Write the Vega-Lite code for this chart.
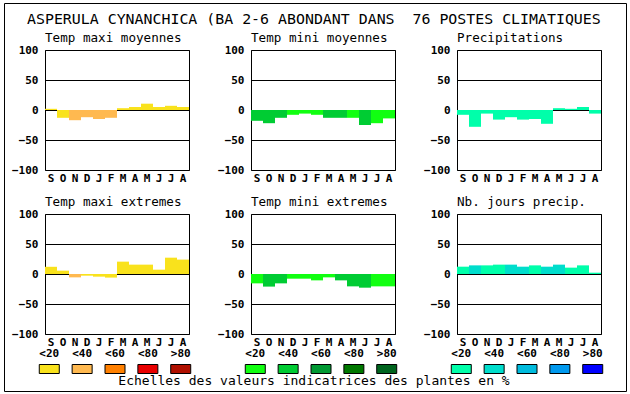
{
  "$schema": "https://vega.github.io/schema/vega-lite/v6.json",
  "autosize": {"type": "none"},
  "padding": {"left": 45, "top": 50, "right": 585, "bottom": 344},
  "background": "#ffffff",
  "title": {"text": "ASPERULA CYNANCHICA (BA 2-6 ABONDANT DANS \u00a076 POSTES CLIMATIQUES", "font": "DejaVu Sans Mono", "fontSize": 14.9, "fontWeight": "normal", "anchor": "start", "frame": "group", "offset": -36, "dx": -18, "baseline": "alphabetic", "color": "#000"},
  "datasets": {
    "bars": [
      {"p": "tmaxmoy", "m": "S", "v": 2, "c": "<20"},
      {"p": "tmaxmoy", "m": "O", "v": -13, "c": "<20"},
      {"p": "tmaxmoy", "m": "N", "v": -17, "c": "<40"},
      {"p": "tmaxmoy", "m": "D", "v": -12, "c": "<40"},
      {"p": "tmaxmoy", "m": "J1", "v": -15, "c": "<40"},
      {"p": "tmaxmoy", "m": "F", "v": -13, "c": "<40"},
      {"p": "tmaxmoy", "m": "M1", "v": 3, "c": "<20"},
      {"p": "tmaxmoy", "m": "A1", "v": 5, "c": "<20"},
      {"p": "tmaxmoy", "m": "M2", "v": 10.5, "c": "<20"},
      {"p": "tmaxmoy", "m": "J2", "v": 5, "c": "<20"},
      {"p": "tmaxmoy", "m": "J3", "v": 7, "c": "<20"},
      {"p": "tmaxmoy", "m": "A2", "v": 5, "c": "<20"},
      {"p": "tminmoy", "m": "S", "v": -18, "c": "<40"},
      {"p": "tminmoy", "m": "O", "v": -22, "c": "<40"},
      {"p": "tminmoy", "m": "N", "v": -13, "c": "<40"},
      {"p": "tminmoy", "m": "D", "v": -8, "c": "<20"},
      {"p": "tminmoy", "m": "J1", "v": -6, "c": "<20"},
      {"p": "tminmoy", "m": "F", "v": -8, "c": "<20"},
      {"p": "tminmoy", "m": "M1", "v": -13, "c": "<40"},
      {"p": "tminmoy", "m": "A1", "v": -13, "c": "<40"},
      {"p": "tminmoy", "m": "M2", "v": -13, "c": "<20"},
      {"p": "tminmoy", "m": "J2", "v": -25, "c": "<40"},
      {"p": "tminmoy", "m": "J3", "v": -22, "c": "<20"},
      {"p": "tminmoy", "m": "A2", "v": -14, "c": "<20"},
      {"p": "precip", "m": "S", "v": -8, "c": "<20"},
      {"p": "precip", "m": "O", "v": -28, "c": "<20"},
      {"p": "precip", "m": "N", "v": -6, "c": "<20"},
      {"p": "precip", "m": "D", "v": -16, "c": "<20"},
      {"p": "precip", "m": "J1", "v": -12, "c": "<20"},
      {"p": "precip", "m": "F", "v": -16, "c": "<20"},
      {"p": "precip", "m": "M1", "v": -15, "c": "<20"},
      {"p": "precip", "m": "A1", "v": -23, "c": "<20"},
      {"p": "precip", "m": "M2", "v": 3, "c": "<20"},
      {"p": "precip", "m": "J2", "v": 2, "c": "<20"},
      {"p": "precip", "m": "J3", "v": 5, "c": "<20"},
      {"p": "precip", "m": "A2", "v": -6, "c": "<20"},
      {"p": "tmaxext", "m": "S", "v": 12, "c": "<20"},
      {"p": "tmaxext", "m": "O", "v": 5.6, "c": "<20"},
      {"p": "tmaxext", "m": "N", "v": -5.6, "c": "<40"},
      {"p": "tmaxext", "m": "D", "v": -2.8, "c": "<20"},
      {"p": "tmaxext", "m": "J1", "v": -4.4, "c": "<20"},
      {"p": "tmaxext", "m": "F", "v": -6, "c": "<20"},
      {"p": "tmaxext", "m": "M1", "v": 20.6, "c": "<20"},
      {"p": "tmaxext", "m": "A1", "v": 15.6, "c": "<20"},
      {"p": "tmaxext", "m": "M2", "v": 15.6, "c": "<20"},
      {"p": "tmaxext", "m": "J2", "v": 7.2, "c": "<20"},
      {"p": "tmaxext", "m": "J3", "v": 27.2, "c": "<20"},
      {"p": "tmaxext", "m": "A2", "v": 24, "c": "<20"},
      {"p": "tminext", "m": "S", "v": -15.6, "c": "<20"},
      {"p": "tminext", "m": "O", "v": -21, "c": "<40"},
      {"p": "tminext", "m": "N", "v": -15.6, "c": "<40"},
      {"p": "tminext", "m": "D", "v": -7.8, "c": "<20"},
      {"p": "tminext", "m": "J1", "v": -7.8, "c": "<20"},
      {"p": "tminext", "m": "F", "v": -10.6, "c": "<20"},
      {"p": "tminext", "m": "M1", "v": -5.6, "c": "<20"},
      {"p": "tminext", "m": "A1", "v": -10.6, "c": "<40"},
      {"p": "tminext", "m": "M2", "v": -20.6, "c": "<40"},
      {"p": "tminext", "m": "J2", "v": -22.8, "c": "<40"},
      {"p": "tminext", "m": "J3", "v": -20.6, "c": "<20"},
      {"p": "tminext", "m": "A2", "v": -20.6, "c": "<20"},
      {"p": "njours", "m": "S", "v": 12.2, "c": "<20"},
      {"p": "njours", "m": "O", "v": 14.4, "c": "<40"},
      {"p": "njours", "m": "N", "v": 14.4, "c": "<20"},
      {"p": "njours", "m": "D", "v": 15.6, "c": "<20"},
      {"p": "njours", "m": "J1", "v": 15.6, "c": "<40"},
      {"p": "njours", "m": "F", "v": 12.2, "c": "<40"},
      {"p": "njours", "m": "M1", "v": 14.4, "c": "<20"},
      {"p": "njours", "m": "A1", "v": 12.2, "c": "<40"},
      {"p": "njours", "m": "M2", "v": 15.6, "c": "<40"},
      {"p": "njours", "m": "J2", "v": 10.6, "c": "<20"},
      {"p": "njours", "m": "J3", "v": 14.4, "c": "<20"},
      {"p": "njours", "m": "A2", "v": 2.2, "c": "<20"}
    ],
    "classes": [
      {"c": "<20"}, {"c": "<40"}, {"c": "<60"}, {"c": "<80"}, {"c": ">80"}
    ],
    "footer": [
      {"t": "Echelles des valeurs indicatrices des plantes en %"}
    ]
  },
  "hconcat": [
    {
      "vconcat": [
        {
          "width": 144, "height": 120,
          "title": {"text": "Temp maxi moyennes"},
          "data": {"name": "bars"},
          "transform": [{"filter": "datum.p == 'tmaxmoy'"}],
          "encoding": {
            "x": {"field": "m", "type": "ordinal", "scale": {"domain": ["S","O","N","D","J1","F","M1","A1","M2","J2","J3","A2"], "paddingInner": 0, "paddingOuter": 0}, "axis": {"labelExpr": "substring(datum.label, 0, 1)"}},
            "y": {"field": "v", "type": "quantitative", "scale": {"domain": [-100, 100], "nice": false}, "axis": {"values": [-100, -50, 0, 50, 100]}}
          },
          "layer": [
            {
              "mark": {"type": "bar"},
              "encoding": {
                "color": {"field": "c", "type": "nominal", "scale": {"domain": ["<20","<40","<60","<80",">80"], "range": ["#f9e21c","#ffb950","#ff8000","#e80000","#b01000"]}, "legend": null}
              }
            },
            {
              "mark": {"type": "point", "opacity": 0},
              "encoding": {
                "x": {"datum": "S"},
                "y": {"datum": 0},
                "stroke": {"datum": 0, "type": "quantitative", "scale": {"domain": [0, 1], "range": ["#ffffff", "#ffffff"]},
                  "legend": {"orient": "none", "legendX": -41, "legendY": -47, "direction": "horizontal", "gradientLength": 616, "gradientThickness": 381, "gradientOpacity": 0, "gradientStrokeWidth": 0, "gradientStrokeColor": "#ffffff", "title": null, "labelOpacity": 0, "labelFontSize": 1, "labelOffset": 0, "padding": 3, "strokeColor": "#000000"}}
              }
            }
          ]
        },
        {
          "vconcat": [
            {
              "width": 144, "height": 120,
              "title": {"text": "Temp maxi extremes"},
              "data": {"name": "bars"},
              "transform": [{"filter": "datum.p == 'tmaxext'"}],
              "mark": {"type": "bar"},
              "encoding": {
                "x": {"field": "m", "type": "ordinal", "scale": {"domain": ["S","O","N","D","J1","F","M1","A1","M2","J2","J3","A2"], "paddingInner": 0, "paddingOuter": 0}, "axis": {"labelExpr": "substring(datum.label, 0, 1)"}},
                "y": {"field": "v", "type": "quantitative", "scale": {"domain": [-100, 100], "nice": false}, "axis": {"values": [-100, -50, 0, 50, 100]}},
                "color": {"field": "c", "type": "nominal", "scale": {"domain": ["<20","<40","<60","<80",">80"], "range": ["#f9e21c","#ffb950","#ff8000","#e80000","#b01000"]}, "legend": null}
              }
            },
            {
              "width": 140, "height": 50,
              "view": {"stroke": null},
              "data": {"name": "classes"},
              "encoding": {
                "x": {"field": "c", "type": "ordinal", "scale": {"type": "point", "padding": 0.13, "domain": ["<20","<40","<60","<80",">80"]}, "axis": null}
              },
              "layer": [
                {"mark": {"type": "point", "shape": "M-1,-0.45L1,-0.45L1,0.45L-1,0.45Z", "filled": true, "size": 400, "stroke": "#000", "strokeWidth": 1, "opacity": 1},
                 "encoding": {"color": {"field": "c", "type": "nominal", "scale": {"domain": ["<20","<40","<60","<80",">80"], "range": ["#f9e21c","#ffb950","#ff8000","#e80000","#b01000"]}, "legend": null}}},
                {"mark": {"type": "text", "dy": -15, "font": "DejaVu Sans Mono", "fontWeight": "bold", "fontSize": 11, "color": "#000"},
                 "encoding": {"text": {"field": "c"}}}
              ]
            }
          ],
          "spacing": 10, "bounds": "flush",
          "resolve": {"scale": {"x": "independent", "y": "independent", "color": "independent"}}
        }
      ],
      "spacing": 44, "bounds": "flush",
      "resolve": {"scale": {"x": "independent", "y": "independent", "color": "independent"}}
    },
    {
      "vconcat": [
        {
          "width": 144, "height": 120,
          "title": {"text": "Temp mini moyennes"},
          "data": {"name": "bars"},
          "transform": [{"filter": "datum.p == 'tminmoy'"}],
          "mark": {"type": "bar"},
          "encoding": {
            "x": {"field": "m", "type": "ordinal", "scale": {"domain": ["S","O","N","D","J1","F","M1","A1","M2","J2","J3","A2"], "paddingInner": 0, "paddingOuter": 0}, "axis": {"labelExpr": "substring(datum.label, 0, 1)"}},
            "y": {"field": "v", "type": "quantitative", "scale": {"domain": [-100, 100], "nice": false}, "axis": {"values": [-100, -50, 0, 50, 100]}},
            "color": {"field": "c", "type": "nominal", "scale": {"domain": ["<20","<40","<60","<80",">80"], "range": ["#11ff11","#00cc33","#009933","#007800","#00641e"]}, "legend": null}
          }
        },
        {
          "vconcat": [
            {
              "width": 144, "height": 120,
              "title": {"text": "Temp mini extremes"},
              "data": {"name": "bars"},
              "transform": [{"filter": "datum.p == 'tminext'"}],
              "mark": {"type": "bar"},
              "encoding": {
                "x": {"field": "m", "type": "ordinal", "scale": {"domain": ["S","O","N","D","J1","F","M1","A1","M2","J2","J3","A2"], "paddingInner": 0, "paddingOuter": 0}, "axis": {"labelExpr": "substring(datum.label, 0, 1)"}},
                "y": {"field": "v", "type": "quantitative", "scale": {"domain": [-100, 100], "nice": false}, "axis": {"values": [-100, -50, 0, 50, 100]}},
                "color": {"field": "c", "type": "nominal", "scale": {"domain": ["<20","<40","<60","<80",">80"], "range": ["#11ff11","#00cc33","#009933","#007800","#00641e"]}, "legend": null}
              }
            },
            {
              "width": 140, "height": 50,
              "view": {"stroke": null},
              "layer": [
                {"data": {"name": "classes"},
                 "mark": {"type": "point", "shape": "M-1,-0.45L1,-0.45L1,0.45L-1,0.45Z", "filled": true, "size": 400, "stroke": "#000", "strokeWidth": 1, "opacity": 1},
                 "encoding": {
                   "x": {"field": "c", "type": "ordinal", "scale": {"type": "point", "padding": 0.13, "domain": ["<20","<40","<60","<80",">80"]}, "axis": null},
                   "color": {"field": "c", "type": "nominal", "scale": {"domain": ["<20","<40","<60","<80",">80"], "range": ["#11ff11","#00cc33","#009933","#007800","#00641e"]}, "legend": null}}},
                {"data": {"name": "classes"},
                 "mark": {"type": "text", "dy": -15, "font": "DejaVu Sans Mono", "fontWeight": "bold", "fontSize": 11, "color": "#000"},
                 "encoding": {
                   "x": {"field": "c", "type": "ordinal", "scale": {"type": "point", "padding": 0.13, "domain": ["<20","<40","<60","<80",">80"]}, "axis": null},
                   "text": {"field": "c"}}},
                {"data": {"name": "footer"},
                 "mark": {"type": "text", "dx": -7, "dy": 12, "font": "DejaVu Sans Mono", "fontSize": 13, "color": "#000"},
                 "encoding": {"text": {"field": "t"}}}
              ]
            }
          ],
          "spacing": 10, "bounds": "flush",
          "resolve": {"scale": {"x": "independent", "y": "independent", "color": "independent"}}
        }
      ],
      "spacing": 44, "bounds": "flush",
      "resolve": {"scale": {"x": "independent", "y": "independent", "color": "independent"}}
    },
    {
      "vconcat": [
        {
          "width": 144, "height": 120,
          "title": {"text": "Precipitations"},
          "data": {"name": "bars"},
          "transform": [{"filter": "datum.p == 'precip'"}],
          "mark": {"type": "bar"},
          "encoding": {
            "x": {"field": "m", "type": "ordinal", "scale": {"domain": ["S","O","N","D","J1","F","M1","A1","M2","J2","J3","A2"], "paddingInner": 0, "paddingOuter": 0}, "axis": {"labelExpr": "substring(datum.label, 0, 1)"}},
            "y": {"field": "v", "type": "quantitative", "scale": {"domain": [-100, 100], "nice": false}, "axis": {"values": [-100, -50, 0, 50, 100]}},
            "color": {"field": "c", "type": "nominal", "scale": {"domain": ["<20","<40","<60","<80",">80"], "range": ["#00ffaa","#00ddcc","#00bbdd","#0099ee","#0000ff"]}, "legend": null}
          }
        },
        {
          "vconcat": [
            {
              "width": 144, "height": 120,
              "title": {"text": "Nb. jours precip."},
              "data": {"name": "bars"},
              "transform": [{"filter": "datum.p == 'njours'"}],
              "mark": {"type": "bar"},
              "encoding": {
                "x": {"field": "m", "type": "ordinal", "scale": {"domain": ["S","O","N","D","J1","F","M1","A1","M2","J2","J3","A2"], "paddingInner": 0, "paddingOuter": 0}, "axis": {"labelExpr": "substring(datum.label, 0, 1)"}},
                "y": {"field": "v", "type": "quantitative", "scale": {"domain": [-100, 100], "nice": false}, "axis": {"values": [-100, -50, 0, 50, 100]}},
                "color": {"field": "c", "type": "nominal", "scale": {"domain": ["<20","<40","<60","<80",">80"], "range": ["#00ffaa","#00ddcc","#00bbdd","#0099ee","#0000ff"]}, "legend": null}
              }
            },
            {
              "width": 140, "height": 50,
              "view": {"stroke": null},
              "data": {"name": "classes"},
              "encoding": {
                "x": {"field": "c", "type": "ordinal", "scale": {"type": "point", "padding": 0.13, "domain": ["<20","<40","<60","<80",">80"]}, "axis": null}
              },
              "layer": [
                {"mark": {"type": "point", "shape": "M-1,-0.45L1,-0.45L1,0.45L-1,0.45Z", "filled": true, "size": 400, "stroke": "#000", "strokeWidth": 1, "opacity": 1},
                 "encoding": {"color": {"field": "c", "type": "nominal", "scale": {"domain": ["<20","<40","<60","<80",">80"], "range": ["#00ffaa","#00ddcc","#00bbdd","#0099ee","#0000ff"]}, "legend": null}}},
                {"mark": {"type": "text", "dy": -15, "font": "DejaVu Sans Mono", "fontWeight": "bold", "fontSize": 11, "color": "#000"},
                 "encoding": {"text": {"field": "c"}}}
              ]
            }
          ],
          "spacing": 10, "bounds": "flush",
          "resolve": {"scale": {"x": "independent", "y": "independent", "color": "independent"}}
        }
      ],
      "spacing": 44, "bounds": "flush",
      "resolve": {"scale": {"x": "independent", "y": "independent", "color": "independent"}}
    }
  ],
  "spacing": 206,
  "bounds": "flush",
  "resolve": {"scale": {"x": "independent", "y": "independent", "color": "independent"}},
  "config": {
    "view": {"stroke": "#000", "strokeWidth": 1},
    "bar": {"strokeWidth": 0},
    "axis": {"labelFont": "DejaVu Sans Mono", "labelFontWeight": "bold", "labelFontSize": 11, "labelColor": "#000", "ticks": false, "domain": false, "title": null, "gridColor": "#000", "gridOpacity": 1, "gridWidth": 1, "zindex": 1},
    "axisX": {"labelAngle": 0, "labelPadding": 2, "grid": false, "labelOverlap": false},
    "axisY": {"labelPadding": 7, "grid": true, "labelOverlap": false},
    "title": {"font": "DejaVu Sans Mono", "fontSize": 12.6, "fontWeight": "normal", "anchor": "start", "frame": "group", "offset": -1, "baseline": "alphabetic", "color": "#000"}
  }
}
